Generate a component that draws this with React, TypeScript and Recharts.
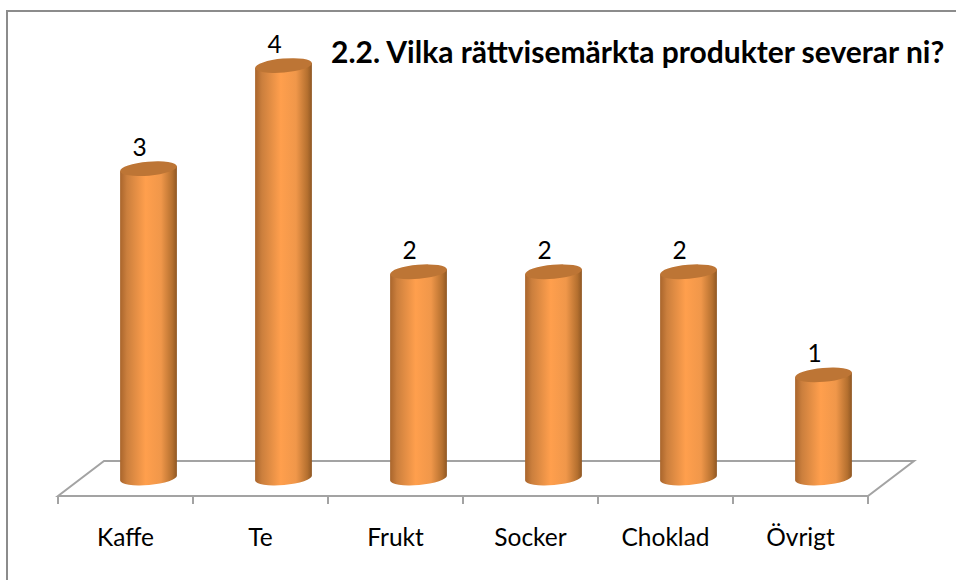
import React from "react";
import { BarChart, Bar, XAxis, YAxis, LabelList, usePlotArea } from "recharts";

const categories = ["Kaffe", "Te", "Frukt", "Socker", "Choklad", "Övrigt"];
const values = [3, 4, 2, 2, 2, 1];
const title = "2.2. Vilka rättvisemärkta produkter severar ni?";
const rows = categories.map((name, i) => ({ name, value: values[i] }));

const FONT = "Lato, Carlito, Calibri, sans-serif";
const AXIS = "#a3a3a3";
const DX = 23;
const DY = -18;
const RY = 7;
const TILT = -5;

function Floor() {
  const p = usePlotArea();
  if (!p) return null;
  const L = p.x, R = p.x + p.width, B = p.y + p.height;
  return (
    <g>
      <path
        d={`M${L} ${B} L${L + 46} ${B - 35} L${R + 46} ${B - 35} L${R} ${B} Z`}
        fill="none" stroke={AXIS} strokeWidth={2}
      />
    </g>
  );
}

function Title() {
  return (
    <text x={331} y={63} fontFamily={FONT} fontWeight={700} fontSize={30} fill="#000">{title}</text>
  );
}

function Cylinder(props: any) {
  const { x, y, width, height } = props;
  const cx = x + width / 2 + DX;
  const rx = 28.5;
  const top = y + DY;
  const bot = y + height + DY;
  const rad = (TILT * Math.PI) / 180;
  const ex = rx * Math.cos(rad);
  const ey = rx * Math.sin(rad);
  const body =
    `M${cx - ex} ${top - ey} L${cx + ex} ${top + ey} L${cx + ex} ${bot + ey} ` +
    `A${rx} ${RY} ${TILT} 0 1 ${cx - ex} ${bot - ey} Z`;
  return (
    <g>
      <path d={body} fill="url(#cyl)" />
      <ellipse cx={cx} cy={top} rx={rx} ry={RY} fill="#bd7535" transform={`rotate(${TILT} ${cx} ${top})`} />
    </g>
  );
}

function ValueLabel(props: any) {
  const { x, y, width, value } = props;
  return (
    <text x={x + width / 2 + 14} y={y - 31} textAnchor="middle" fontFamily={FONT} fontSize={24.5} fill="#000">
      {value}
    </text>
  );
}

function CatTick(props: any) {
  const { x, y, payload, index } = props;
  const band = 135;
  const isLast = index === categories.length - 1;
  return (
    <g>
      <line x1={x - band / 2} x2={x - band / 2} y1={y - 8} y2={y} stroke={AXIS} strokeWidth={2} />
      {isLast && <line x1={x + band / 2} x2={x + band / 2} y1={y - 8} y2={y} stroke={AXIS} strokeWidth={2} />}
      <text x={x} y={y + 42} textAnchor="middle" fontFamily={FONT} fontSize={24.5} fill="#000">
        {payload.value}
      </text>
    </g>
  );
}

export default function App() {
  return (
    <div style={{ position: "absolute", left: 0, top: 0, width: 956, height: 580, background: "#fff", overflow: "hidden" }}>
      <div style={{ position: "absolute", left: 6, top: 10, width: 950, height: 2, background: "#8c8c8c" }} />
      <div style={{ position: "absolute", left: 6, top: 10, width: 2, height: 570, background: "#8c8c8c" }} />
      <div style={{ position: "absolute", left: 0, top: 0 }}>
        <BarChart
          width={956}
          height={580}
          data={rows}
          margin={{ top: 32, right: 88, bottom: 0, left: 58 }}
          barCategoryGap="57.8%"
        >
          <defs>
            <linearGradient id="cyl" x1="0" x2="1" y1="0" y2="0">
              <stop offset="0" stopColor="#a9652c" />
              <stop offset="0.12" stopColor="#cb7f3d" />
              <stop offset="0.45" stopColor="#ff9f4d" />
              <stop offset="0.72" stopColor="#f0974a" />
              <stop offset="0.92" stopColor="#b5702f" />
              <stop offset="1" stopColor="#8f5723" />
            </linearGradient>
          </defs>
          <Floor />
          <XAxis dataKey="name" height={84} axisLine={false} tickLine={false} interval={0} tick={<CatTick />} />
          <YAxis hide domain={[0, 4.5]} />
          <Bar dataKey="value" shape={<Cylinder />} isAnimationActive={false}>
            <LabelList dataKey="value" content={<ValueLabel />} />
          </Bar>
          <Title />
        </BarChart>
      </div>
    </div>
  );
}
